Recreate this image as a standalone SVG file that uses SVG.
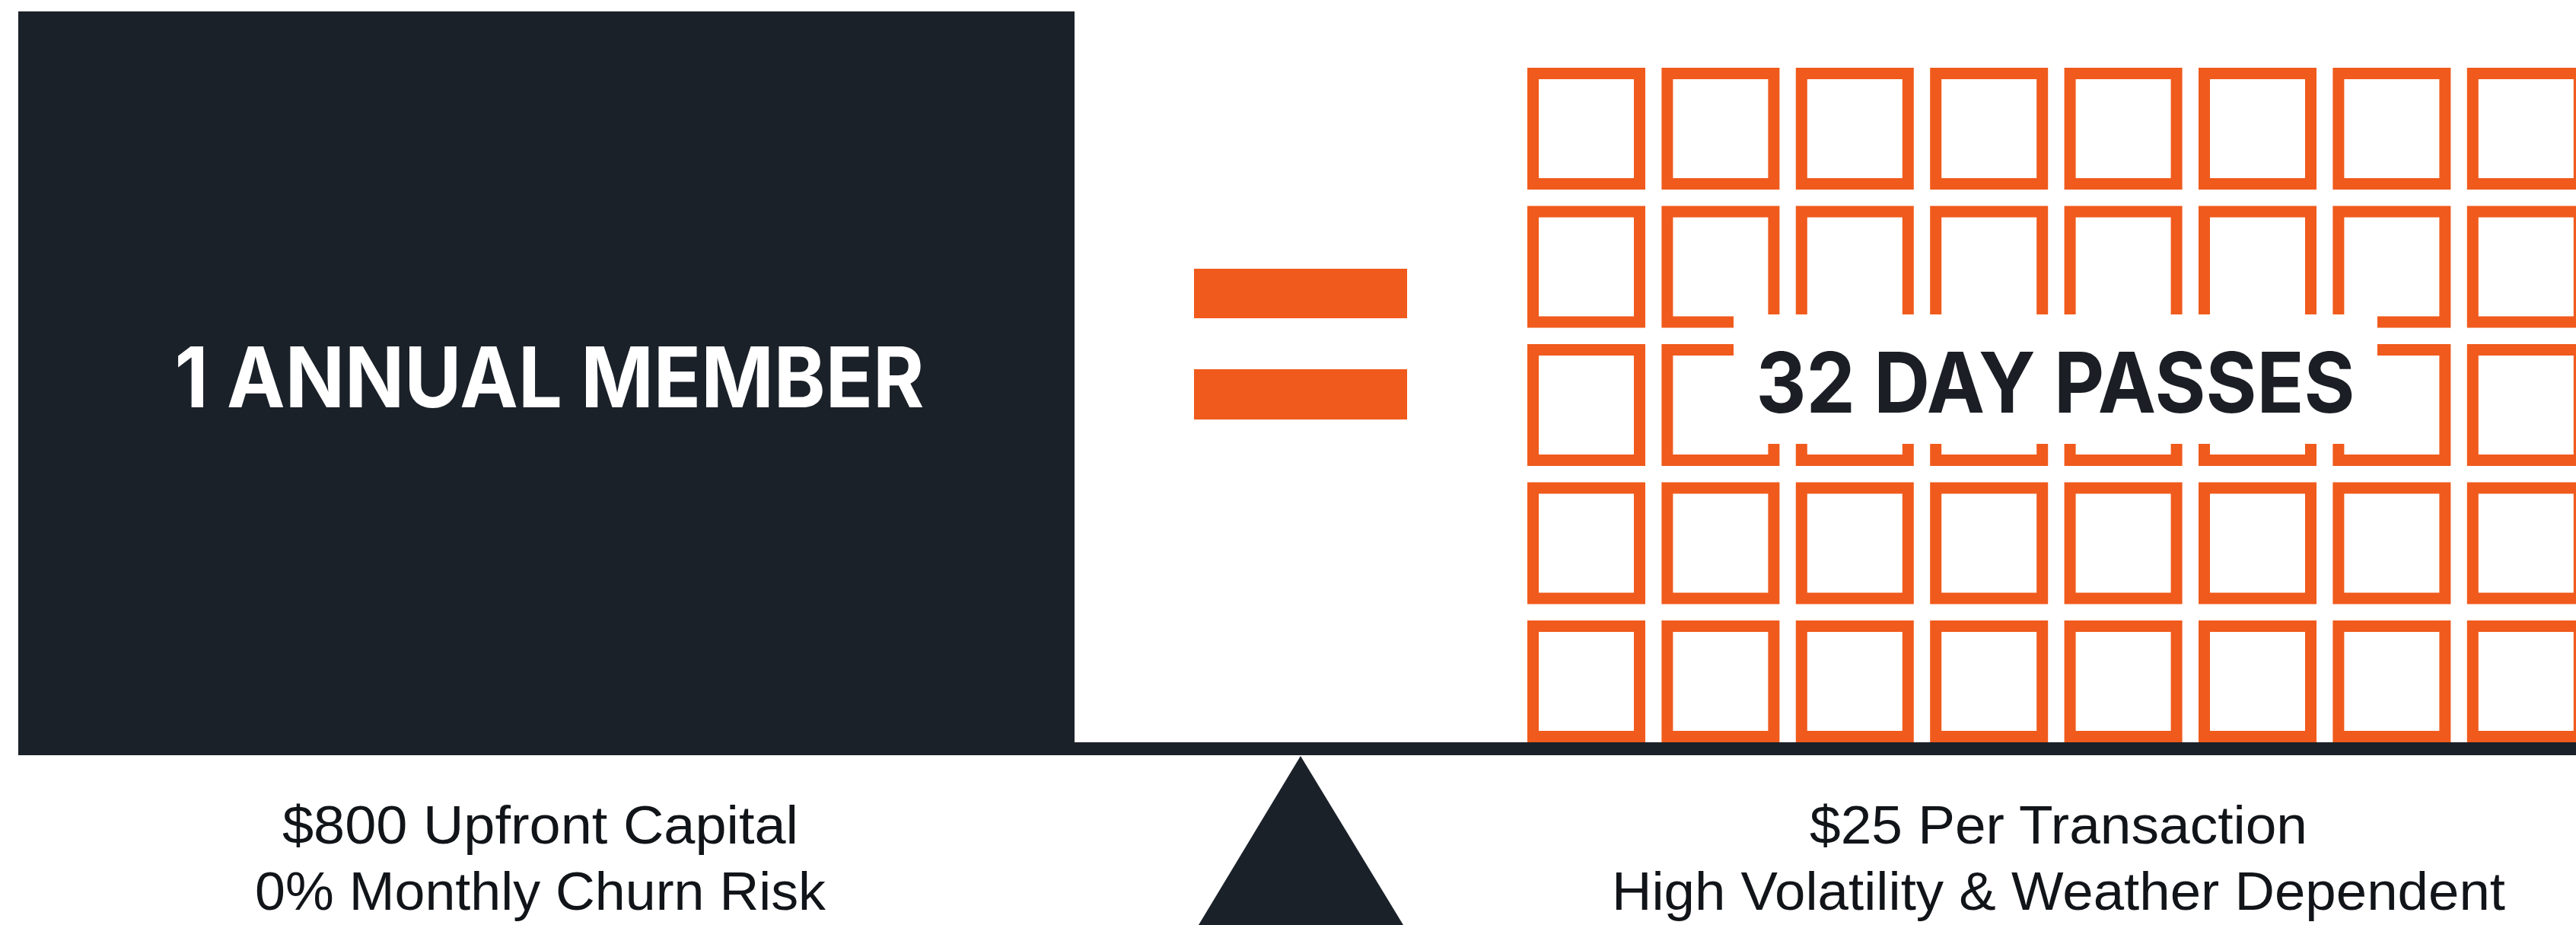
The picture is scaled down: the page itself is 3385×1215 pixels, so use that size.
<svg xmlns="http://www.w3.org/2000/svg" xmlns:xlink="http://www.w3.org/1999/xlink" width="3385" height="1215" viewBox="0 0 3385 1215">
<style>
.dark{fill:#1B2129}
.orange{fill:#F05A1C}
.sq{fill:none;stroke:#F05A1C;stroke-width:15}
.big{font-family:Inter,"Liberation Sans",Arial,sans-serif;font-weight:700;font-size:110px;text-anchor:middle}
.cap{font-family:"Liberation Sans",Arial,sans-serif;font-size:71px;fill:#111418;text-anchor:middle}
</style>
<defs>
<rect id="sq" class="sq" x="7.5" y="7.5" width="140" height="145"/>
</defs>
<rect width="3385" height="1215" fill="#FFFFFF"/>

<g id="annual-member">
<rect class="dark" x="24" y="15" width="1388" height="977"/>
<text class="big" x="722" y="535" fill="#FFFFFF" textLength="985" lengthAdjust="spacingAndGlyphs">1 ANNUAL MEMBER</text>
</g>

<g id="equals">
<rect class="orange" x="1569" y="353" width="280" height="65"/>
<rect class="orange" x="1569" y="485" width="280" height="66"/>
</g>

<g id="day-passes">
<g id="grid">
<use xlink:href="#sq" x="2007" y="89"/><use xlink:href="#sq" x="2183.4" y="89"/><use xlink:href="#sq" x="2359.8" y="89"/><use xlink:href="#sq" x="2536.2" y="89"/><use xlink:href="#sq" x="2712.6" y="89"/><use xlink:href="#sq" x="2889" y="89"/><use xlink:href="#sq" x="3065.4" y="89"/><use xlink:href="#sq" x="3241.8" y="89"/>
<use xlink:href="#sq" x="2007" y="270.5"/><use xlink:href="#sq" x="2183.4" y="270.5"/><use xlink:href="#sq" x="2359.8" y="270.5"/><use xlink:href="#sq" x="2536.2" y="270.5"/><use xlink:href="#sq" x="2712.6" y="270.5"/><use xlink:href="#sq" x="2889" y="270.5"/><use xlink:href="#sq" x="3065.4" y="270.5"/><use xlink:href="#sq" x="3241.8" y="270.5"/>
<use xlink:href="#sq" x="2007" y="452"/><use xlink:href="#sq" x="2183.4" y="452"/><use xlink:href="#sq" x="2359.8" y="452"/><use xlink:href="#sq" x="2536.2" y="452"/><use xlink:href="#sq" x="2712.6" y="452"/><use xlink:href="#sq" x="2889" y="452"/><use xlink:href="#sq" x="3065.4" y="452"/><use xlink:href="#sq" x="3241.8" y="452"/>
<use xlink:href="#sq" x="2007" y="633.5"/><use xlink:href="#sq" x="2183.4" y="633.5"/><use xlink:href="#sq" x="2359.8" y="633.5"/><use xlink:href="#sq" x="2536.2" y="633.5"/><use xlink:href="#sq" x="2712.6" y="633.5"/><use xlink:href="#sq" x="2889" y="633.5"/><use xlink:href="#sq" x="3065.4" y="633.5"/><use xlink:href="#sq" x="3241.8" y="633.5"/>
<use xlink:href="#sq" x="2007" y="815"/><use xlink:href="#sq" x="2183.4" y="815"/><use xlink:href="#sq" x="2359.8" y="815"/><use xlink:href="#sq" x="2536.2" y="815"/><use xlink:href="#sq" x="2712.6" y="815"/><use xlink:href="#sq" x="2889" y="815"/><use xlink:href="#sq" x="3065.4" y="815"/><use xlink:href="#sq" x="3241.8" y="815"/>
</g>
<rect x="2278" y="413" width="846" height="170" fill="#FFFFFF"/>
<text class="big" x="2701" y="542" fill="#1B1F25" textLength="787" lengthAdjust="spacingAndGlyphs">32 DAY PASSES</text>
</g>

<g id="scale">
<rect class="dark" x="24" y="975" width="3361" height="17"/>
<polygon class="dark" points="1709,993 1844,1215 1575,1215"/>
</g>

<g id="left-caption">
<text class="cap" x="710" y="1108" textLength="678" lengthAdjust="spacingAndGlyphs">$800 Upfront Capital</text>
<text class="cap" x="710" y="1195" textLength="750" lengthAdjust="spacingAndGlyphs">0% Monthly Churn Risk</text>
</g>

<g id="right-caption">
<text class="cap" x="2705" y="1108" textLength="654" lengthAdjust="spacingAndGlyphs">$25 Per Transaction</text>
<text class="cap" x="2705" y="1195" textLength="1174" lengthAdjust="spacingAndGlyphs">High Volatility &amp; Weather Dependent</text>
</g>
</svg>
